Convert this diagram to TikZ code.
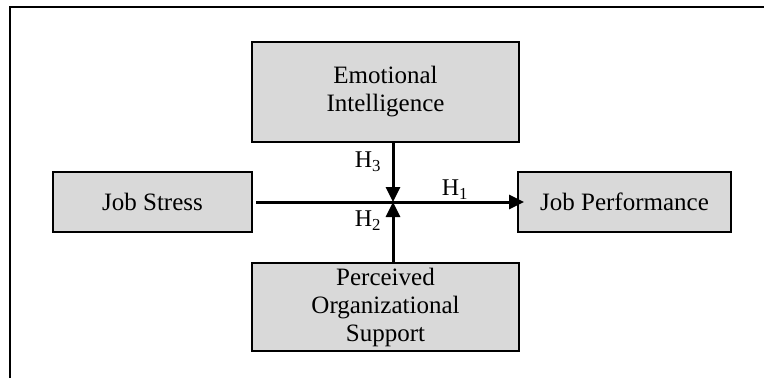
\documentclass[tikz,border=0pt]{standalone}
\usepackage{fontspec}
\setmainfont{Liberation Serif}
\usetikzlibrary{arrows.meta,positioning}
\definecolor{boxgray}{HTML}{D9D9D9}

\begin{document}
\begin{tikzpicture}[x=1pt,y=-1pt,
		box/.style={draw=black,line width=2pt,fill=boxgray,align=center,inner sep=0pt,font=\fontsize{25}{28}\selectfont},
		hyp/.style={inner sep=0pt,font=\fontsize{24}{28}\selectfont},
		link/.style={line width=3pt,-{Triangle[length=15pt,width=14pt]}}]
		\useasboundingbox (0,0) rectangle (764,378);
		% frame, top and left only
		\draw[line width=2pt] (9.5,378) -- (9.5,6.5) -- (764,6.5);
		% the four boxes
		\node[box,minimum width=267pt,minimum height=100pt] (emot) at (385.5,92) {Emotional\\Intelligence};
		\node[box,minimum width=267pt,minimum height=88pt] (support) at (385.5,307) {Perceived\\Organizational\\Support};
		\node[box,minimum width=199pt,minimum height=60pt] (stress) at (152.5,202) {Job Stress};
		\node[box,minimum width=213pt,minimum height=60pt] (perf) at (624.5,202) {Job Performance};
		\coordinate (meet) at (393,202);
		% paths
		\draw[link,shorten <=3pt,shorten >=-7pt] (stress.east) -- (perf.west);
		\draw[link] (emot.south -| meet) -- (meet);
		\draw[link] (support.north -| meet) -- (meet);
		\node[hyp] (h1) at (455,190) {H\textsubscript{1}};
		\node[hyp] (h3) at (368,162) {H\textsubscript{3}};
		\node[hyp] (h2) at (368,221) {H\textsubscript{2}};
\end{tikzpicture}
\end{document}
